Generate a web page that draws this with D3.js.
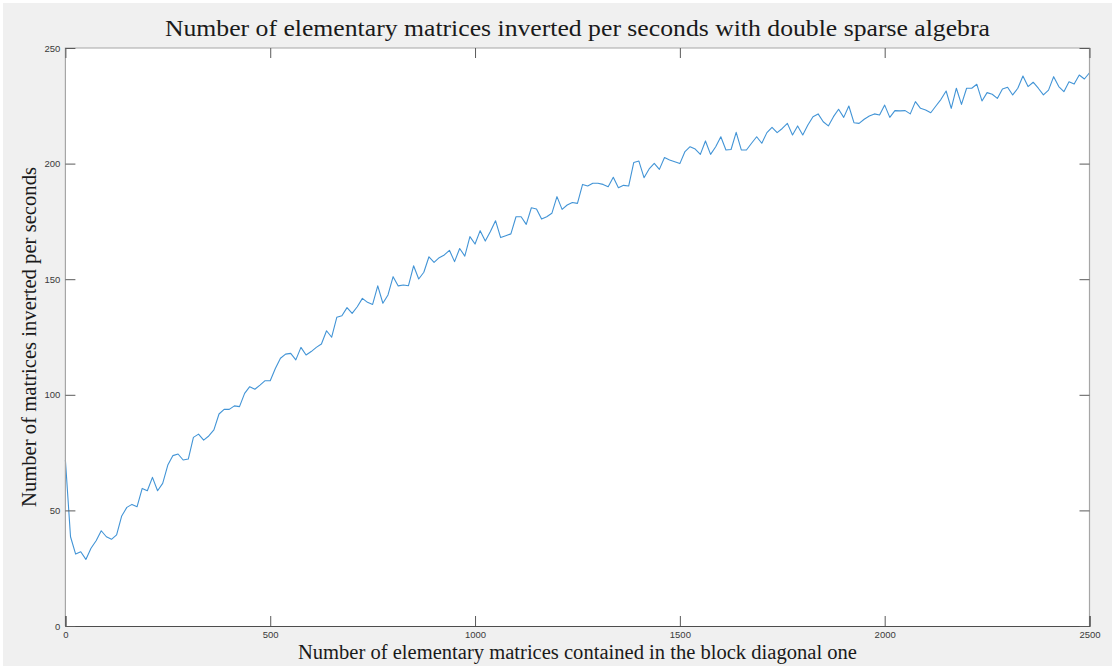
<!DOCTYPE html>
<html>
<head>
<meta charset="utf-8">
<script src="https://cdn.jsdelivr.net/npm/d3@7"></script>
<style>
  html, body { margin: 0; padding: 0; background: #fff; }
</style>
</head>
<body>
<div id="chart"></div>
<script>
// x values: 0, 12.5, 25, ... 2500 (one sample every 12.5 matrices)
const xStep = 12.5;
const rates = [
  71.8, 38.6, 31.1, 32.1, 28.8, 33.6, 36.9, 41.2, 38.6, 37.5, 39.4, 47.6, 51.3, 52.6, 51.6, 59.5, 58.5,
  64.3, 58.5, 61.7, 69.6, 73.7, 74.4, 71.8, 72.2, 81.6, 83.0, 80.4, 82.2, 84.8, 91.7, 93.7, 93.7, 95.2,
  94.9, 100.6, 103.5, 102.4, 104.2, 106.1, 106.1, 111.4, 115.8, 117.6, 117.9, 115.1, 120.5, 117.2, 118.7,
  120.5, 122.0, 127.7, 124.9, 133.5, 134.2, 137.7, 135.2, 138.1, 141.7, 140.0, 139.1, 147.1, 139.6, 143.2,
  151.1, 147.1, 147.5,
  147.2, 155.8, 150.1, 153.0, 159.7, 157.3, 159.3, 160.5, 162.5, 157.6, 163.3, 160.0, 168.4, 165.2, 171.0,
  166.5, 170.6, 175.3, 168.0, 168.8, 169.6, 177.0, 177.0, 173.7, 180.9, 180.4, 176.0, 177.0, 178.5, 185.7,
  180.2, 182.1, 183.2,
  182.8, 191.0, 190.3, 191.5, 191.5, 191.0, 190.0, 194.1, 189.6, 190.6, 190.3, 200.5, 201.1, 193.9, 197.7,
  200.1, 197.5, 202.6, 201.6, 200.8, 200.0, 205.2, 207.3, 206.3, 204.0, 209.8, 204.0, 207.3, 211.6, 205.9,
  206.1, 213.5, 205.9,
  205.9, 208.8, 211.6, 208.8, 213.4, 215.7, 213.4, 215.2, 217.4, 212.4, 216.3, 212.4, 216.7, 220.3, 221.5,
  218.1, 216.3, 220.3, 223.5, 220.0, 224.9, 217.7, 217.4, 219.2, 220.6, 221.5, 221.0, 225.3, 220.0, 222.9,
  222.8, 222.9, 221.5, 226.8,
  223.9, 223.2, 222.0, 224.9, 227.8, 231.4, 223.9, 232.6, 225.6, 232.6, 232.6, 234.3, 227.1, 230.7, 230.0,
  228.2, 232.3, 233.0, 229.7, 232.6, 237.9, 233.3, 235.2, 232.6, 229.7, 231.8, 237.6, 233.3, 231.1, 235.4,
  234.4, 238.3, 236.6, 239.3
];
const xTicks = [0, 500, 1000, 1500, 2000, 2500];
const yTicks = [0, 50, 100, 150, 200, 250];

const titleText = 'Number of elementary matrices inverted per seconds with double sparse algebra';
const xLabelText = 'Number of elementary matrices contained in the block diagonal one';
const yLabelText = 'Number of matrices inverted per seconds';

const width = 1115;
const height = 669;
const box = { left: 65.4, right: 1089.5, top: 48, bottom: 626 };
const serif = '"Liberation Serif", "DejaVu Serif", serif';
const sans = '"Liberation Sans", "DejaVu Sans", sans-serif';

const svg = d3.select('#chart').append('svg')
  .attr('width', width)
  .attr('height', height);

// figure background
svg.append('rect')
  .attr('x', 3).attr('y', 3)
  .attr('width', width - 6).attr('height', height - 6)
  .attr('fill', '#f0f0f0');

let x = d3.scaleLinear().domain([0, 2500]).range([box.left, box.right]);
let y = d3.scaleLinear().domain([0, 250]).range([box.bottom, box.top]);

svg.append('rect')
  .attr('x', box.left).attr('y', box.top)
  .attr('width', box.right - box.left).attr('height', box.bottom - box.top)
  .attr('fill', '#fff');

// the series
let data = rates.map((v, i) => ({ x: i * xStep, y: v }));
let line = d3.line().x(d => x(d.x)).y(d => y(d.y));

svg.append('path')
  .datum(data)
  .attr('d', line)
  .attr('fill', 'none')
  .attr('stroke', '#4294d6')
  .attr('stroke-width', 1.1)
  .attr('stroke-linejoin', 'round');

// box outline
svg.append('path')
  .attr('d', `M${box.left},${box.bottom}V${box.top}H${box.right}V${box.bottom}`)
  .attr('fill', 'none')
  .attr('stroke', '#a6a6a6')
  .attr('stroke-width', 1.2);

// axes with inward ticks, MATLAB style
let xAxis = svg.append('g')
  .attr('transform', `translate(0,${box.bottom})`)
  .call(d3.axisBottom(x).tickValues(xTicks).tickSize(-10).tickPadding(5).tickFormat(d3.format('d')));
let xTop = svg.append('g')
  .attr('transform', `translate(0,${box.top})`)
  .call(d3.axisTop(x).tickValues(xTicks).tickSize(-10).tickFormat(''));
let yAxis = svg.append('g')
  .attr('transform', `translate(${box.left},0)`)
  .call(d3.axisLeft(y).tickValues(yTicks).tickSize(-10).tickPadding(5).tickFormat(d3.format('d')));
let yRight = svg.append('g')
  .attr('transform', `translate(${box.right},0)`)
  .call(d3.axisRight(y).tickValues(yTicks).tickSize(-10).tickFormat(''));

[xTop, yAxis, yRight].forEach(g => g.select('.domain').remove());
xAxis.select('.domain').attr('stroke', '#4d4d4d').attr('stroke-width', 1.2);
[xAxis, xTop, yAxis, yRight].forEach(g => {
  g.selectAll('.tick line').attr('stroke', '#5a5a5a');
  g.selectAll('.tick text')
    .attr('fill', '#3a3a3a')
    .style('font-family', sans)
    .style('font-size', '9.5px');
});

// titles
svg.append('text')
  .attr('x', (box.left + box.right) / 2)
  .attr('y', 36)
  .attr('text-anchor', 'middle')
  .attr('textLength', 825)
  .attr('lengthAdjust', 'spacingAndGlyphs')
  .style('font-family', serif)
  .style('font-size', '23px')
  .attr('fill', '#1a1a1a')
  .text(titleText);

svg.append('text')
  .attr('x', (box.left + box.right) / 2)
  .attr('y', 659)
  .attr('text-anchor', 'middle')
  .attr('textLength', 559)
  .attr('lengthAdjust', 'spacingAndGlyphs')
  .style('font-family', serif)
  .style('font-size', '20px')
  .attr('fill', '#1a1a1a')
  .text(xLabelText);

svg.append('text')
  .attr('transform', `translate(36,${(box.top + box.bottom) / 2}) rotate(-90)`)
  .attr('text-anchor', 'middle')
  .attr('textLength', 340)
  .attr('lengthAdjust', 'spacingAndGlyphs')
  .style('font-family', serif)
  .style('font-size', '20px')
  .attr('fill', '#1a1a1a')
  .text(yLabelText);
</script>
</body>
</html>
